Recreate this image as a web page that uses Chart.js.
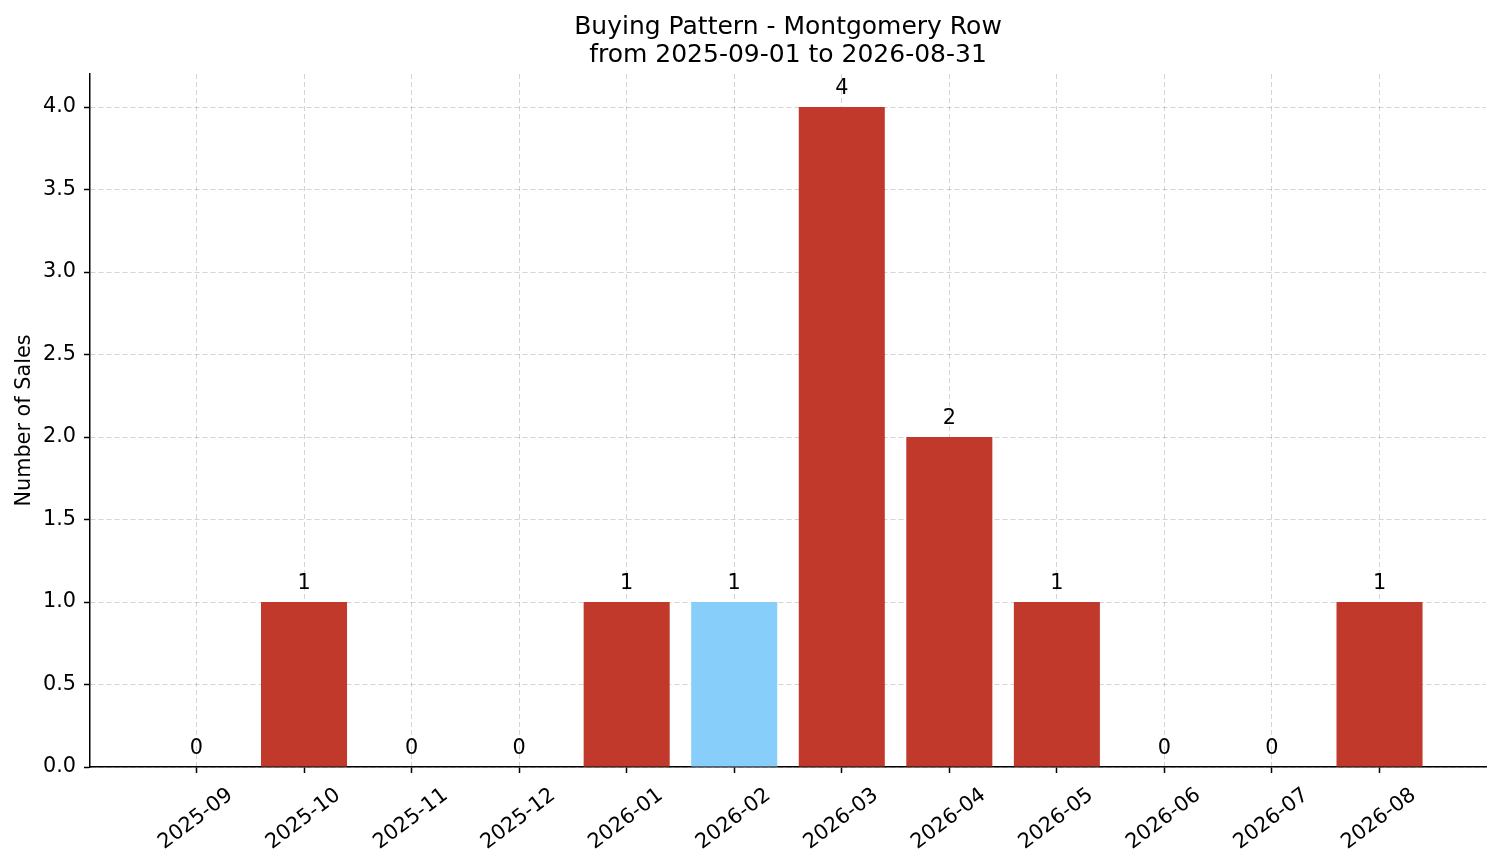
<!DOCTYPE html>
<html>
<head>
<meta charset="utf-8">
<script src="https://cdn.jsdelivr.net/npm/chart.js@4"></script>
<style>
  html, body { margin: 0; padding: 0; background: #fff; }
  #wrap { width: 1501px; height: 863px; }
</style>
</head>
<body>
<div id="wrap"><canvas id="salesChart"></canvas></div>
<script>
// months and sales counts
const months = ['2025-09', '2025-10', '2025-11', '2025-12', '2026-01', '2026-02',
                '2026-03', '2026-04', '2026-05', '2026-06', '2026-07', '2026-08'];
const sales = [0, 1, 0, 0, 1, 1, 4, 2, 1, 0, 0, 1];
const highlightMonth = '2026-02';
const yTicks = [0, 0.5, 1, 1.5, 2, 2.5, 3, 3.5, 4];

const barRed = '#c0392b';
const barBlue = '#87cefa';
const gridColor = 'rgba(0, 0, 0, 0.17)';
const fontFamily = '"DejaVu Sans", sans-serif';

Chart.defaults.font.family = fontFamily;
Chart.defaults.color = '#000';

// numbers on top of the bars
const barLabels = {
    id: 'barLabels',
    afterDatasetsDraw(chart) {
        const ctx = chart.ctx;
        const meta = chart.getDatasetMeta(0);
        ctx.save();
        ctx.font = '20.8px ' + fontFamily;
        ctx.fillStyle = '#000';
        ctx.textAlign = 'center';
        ctx.textBaseline = 'alphabetic';
        meta.data.forEach((bar, i) => {
            ctx.fillText(String(sales[i]), bar.x, bar.y - 13);
        });
        ctx.restore();
    }
};

const gridOpts = {
    color: gridColor,
    lineWidth: 1,
    offset: false,
    tickLength: 6,
    tickColor: '#000',
    tickWidth: 1.5,
    tickBorderDash: []
};

const ctx = document.getElementById('salesChart').getContext('2d');
const salesChart = new Chart(ctx, {
    type: 'bar',
    data: {
        datasets: [{
            data: months.map((m, i) => ({ x: i, y: sales[i] })),
            backgroundColor: months.map(m => m === highlightMonth ? barBlue : barRed),
            borderWidth: 0,
            barPercentage: 0.8,
            categoryPercentage: 1.0
        }]
    },
    options: {
        responsive: true,
        maintainAspectRatio: false,
        animation: false,
        layout: { padding: { left: 0, right: 15, top: 0, bottom: 0 } },
        plugins: {
            legend: { display: false },
            tooltip: { enabled: false },
            title: {
                display: true,
                fullSize: false,
                text: ['Buying Pattern - Montgomery Row', 'from 2025-09-01 to 2026-08-31'],
                font: { size: 25, weight: 'normal', lineHeight: 1.12 },
                color: '#000',
                padding: { top: 13, bottom: 5 }
            }
        },
        scales: {
            x: {
                type: 'linear',
                min: -0.99,
                max: 11.99,
                offset: false,
                z: 1,
                afterBuildTicks(scale) {
                    scale.ticks = months.map((m, i) => ({ value: i }));
                },
                afterFit(scale) { scale.height = 96; },
                ticks: {
                    includeBounds: false,
                    autoSkip: false,
                    minRotation: 37,
                    maxRotation: 37,
                    labelOffset: 34,
                    padding: 10,
                    font: { size: 20.8 },
                    callback: (v) => months[v]
                },
                grid: gridOpts,
                border: { display: true, color: '#000', width: 1.5, dash: [5, 3] }
            },
            y: {
                min: 0,
                max: 4.2,
                z: 1,
                afterBuildTicks(scale) {
                    scale.ticks = yTicks.map(v => ({ value: v }));
                },
                afterFit(scale) { scale.width = 90; },
                ticks: {
                    includeBounds: false,
                    padding: 8,
                    font: { size: 20.8 },
                    callback: (v) => Number(v).toFixed(1)
                },
                grid: gridOpts,
                border: { display: true, color: '#000', width: 1.5, dash: [5, 3] },
                title: {
                    display: true,
                    text: 'Number of Sales',
                    font: { size: 20.8, weight: 'normal' },
                    color: '#000',
                    padding: { top: 12, bottom: 0 }
                }
            }
        }
    },
    plugins: [barLabels]
});
</script>
</body>
</html>
